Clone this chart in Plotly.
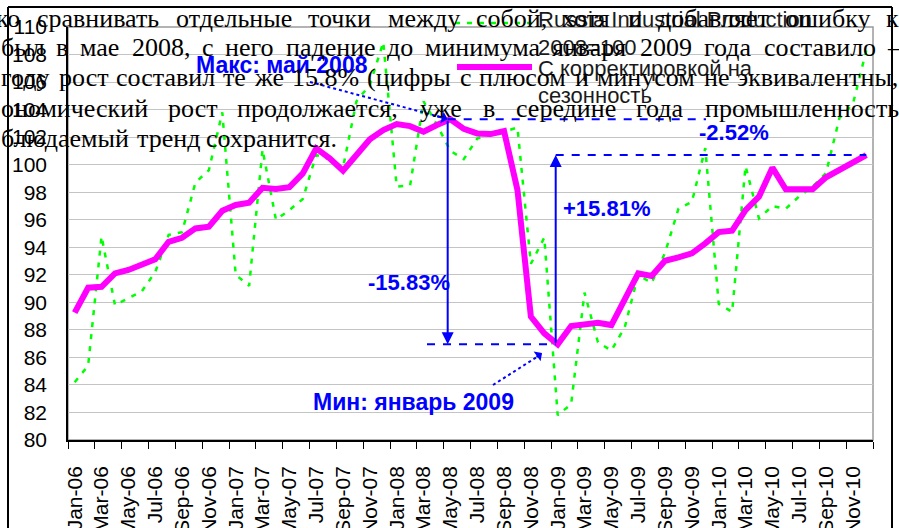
import plotly.graph_objects as go

# ---------------- data ----------------
months = ["Jan-06", "Feb-06", "Mar-06", "Apr-06", "May-06", "Jun-06", "Jul-06", "Aug-06", "Sep-06", "Oct-06", "Nov-06", "Dec-06",
          "Jan-07", "Feb-07", "Mar-07", "Apr-07", "May-07", "Jun-07", "Jul-07", "Aug-07", "Sep-07", "Oct-07", "Nov-07", "Dec-07",
          "Jan-08", "Feb-08", "Mar-08", "Apr-08", "May-08", "Jun-08", "Jul-08", "Aug-08", "Sep-08", "Oct-08", "Nov-08", "Dec-08",
          "Jan-09", "Feb-09", "Mar-09", "Apr-09", "May-09", "Jun-09", "Jul-09", "Aug-09", "Sep-09", "Oct-09", "Nov-09", "Dec-09",
          "Jan-10", "Feb-10", "Mar-10", "Apr-10", "May-10", "Jun-10", "Jul-10", "Aug-10", "Sep-10", "Oct-10", "Nov-10", "Dec-10"]

tick_labels = ["Jan-06", "Mar-06", "May-06", "Jul-06", "Sep-06", "Nov-06",
               "Jan-07", "Mar-07", "May-07", "Jul-07", "Sep-07", "Nov-07",
               "Jan-08", "Mar-08", "May-08", "Jul-08", "Sep-08", "Nov-08",
               "Jan-09", "Mar-09", "May-09", "Jul-09", "Sep-09", "Nov-09",
               "Jan-10", "Mar-10", "May-10", "Jul-10", "Sep-10", "Nov-10"]

raw_index = [84.2, 85.4, 94.8, 89.8, 90.3, 90.8, 92.2, 94.9, 95.1, 98.7, 99.6, 103.8,
             92.0, 91.2, 101.1, 96.0, 96.7, 97.5, 100.7, 100.4, 99.8, 104.6, 105.8, 108.9,
             98.4, 98.5, 104.6, 102.9, 101.0, 100.4, 101.9, 102.2, 102.4, 102.7, 92.8, 94.7,
             81.8, 82.6, 90.7, 87.1, 86.5, 88.2, 92.0, 91.4, 93.6, 96.8, 97.3, 101.2,
             89.9, 89.3, 99.9, 96.1, 97.0, 96.8, 97.7, 98.4, 99.4, 103.4, 104.4, 108.3]

sa_index = [89.25, 91.06, 91.13, 92.10, 92.35, 92.70, 93.12, 94.40, 94.69, 95.37, 95.49, 96.65,
            97.07, 97.23, 98.32, 98.23, 98.37, 99.37, 101.18, 100.46, 99.56, 100.70, 101.84, 102.51,
            102.95, 102.80, 102.39, 102.88, 103.30, 102.60, 102.27, 102.22, 102.44, 98.16, 88.96, 87.75,
            86.95, 88.28, 88.40, 88.52, 88.35, 90.29, 92.10, 91.91, 93.02, 93.27, 93.56, 94.28,
            95.10, 95.20, 96.70, 97.67, 99.78, 98.21, 98.21, 98.21, 99.08, 99.61, 100.09, 100.70]

y_ticks = [80, 82, 84, 86, 88, 90, 92, 94, 96, 98, 100, 102, 104, 106, 108, 110]

legend_raw = ["Russia Industrial Production", "2008=100"]
legend_sa = ["С корректировкой на", "сезонность"]

label_max = "Макс: май 2008"
label_min = "Мин: январь 2009"
label_fall = "-15.83%"
label_rise = "+15.81%"
label_gap = "-2.52%"

# overlaid document text (justified lines seen through the chart)
body_lines = [
    ["ко", "сравнивать", "отдельные", "точки", "между", "собой,", "хотя", "и", "добавляет", "ошибку", "к"],
    ["был", "в", "мае", "2008,", "с", "него", "падение", "до", "минимума", "января", "2009", "года", "составило", "–"],
    ["году", "рост", "составил", "те", "же", "15.8%", "(цифры", "с", "плюсом", "и", "минусом", "не", "эквивалентны,"],
    ["ономический", "рост", "продолжается,", "уже", "в", "середине", "года", "промышленность"],
    ["блюдаемый", "тренд", "сохранится."],
]
body_spans = [(-5, 898), (0, 899), (0, 898), (0, 898), None]   # justified extents (px); None = natural
body_centers = [18, 48, 78, 108, 138]

# ---------------- geometry helpers ----------------
W, H = 899, 528
L, R, T, B = 68, 26, 27, 88
PW, PH = W - L - R, H - T - B
YMIN, YMAX = 80, 110
N = len(months)


def fx(px):
    return (px - L) / PW


def fy(py):
    return (H - B - py) / PH


def dx(px):
    return (px - L) / PW * N - 0.5


def dy(py):
    return YMIN + (H - B - py) / PH * (YMAX - YMIN)


# approximate Times/Liberation Serif advance widths (1/1000 em) for justification
CW = {'а': 444, 'б': 508, 'в': 472, 'г': 410, 'д': 509, 'е': 444, 'ж': 691, 'з': 395, 'и': 535, 'й': 535,
      'к': 486, 'л': 499, 'м': 633, 'н': 535, 'о': 500, 'п': 535, 'р': 500, 'с': 444, 'т': 437, 'у': 500,
      'ф': 648, 'х': 500, 'ц': 535, 'ч': 503, 'ш': 770, 'щ': 770, 'ъ': 517, 'ы': 672, 'ь': 456, 'э': 438,
      'ю': 733, 'я': 493, '.': 250, ',': 250, '%': 833, '(': 333, ')': 333, '–': 500, ' ': 250}
BODY_SIZE = 26


def text_w(s):
    return sum(CW.get(c, 500) for c in s) / 1000 * BODY_SIZE


x_idx = list(range(N))
tick_pos = [months.index(t) for t in tick_labels]

BLUE = "#0000ff"
GREEN = "#00ff00"
MAGENTA = "#ff00ff"
SANS = "Liberation Sans, Arial, sans-serif"
SERIF = "Liberation Serif, Times New Roman, serif"

fig = go.Figure()
fig.add_trace(go.Scatter(x=x_idx, y=raw_index, mode="lines", name=" ".join(legend_raw),
                         line=dict(color=GREEN, width=2.5, dash="5px,7px"),
                         showlegend=False, hoverinfo="skip"))
fig.add_trace(go.Scatter(x=x_idx, y=sa_index, mode="lines", name=" ".join(legend_sa),
                         line=dict(color=MAGENTA, width=6),
                         showlegend=False, hoverinfo="skip"))

max_level = max(sa_index)
i_max = sa_index.index(max_level)
min_level = min(sa_index)
i_min = sa_index.index(min_level)
end_level = sa_index[-1]
i_end = N - 1

x_max_arrow = i_max - 0.2
x_min_arrow = i_min - 0.15

shapes = []
# plot area border (grey)
shapes.append(dict(type="rect", xref="paper", yref="paper", x0=0, y0=0, x1=1, y1=1,
                   line=dict(color="#9a9a9a", width=1.5), layer="below"))
# outer black frame of the picture
for (x0, y0, x1, y1) in [(8, 7, 892, 7), (8, 7, 8, 540), (892, 7, 892, 540)]:
    shapes.append(dict(type="line", xref="paper", yref="paper", x0=fx(x0), y0=fy(y0), x1=fx(x1), y1=fy(y1),
                       line=dict(color="black", width=2)))
# dashed level lines
shapes.append(dict(type="line", xref="x", yref="y", x0=x_max_arrow, x1=dx(706), y0=max_level, y1=max_level,
                   line=dict(color=BLUE, width=2, dash="8px,8px")))
shapes.append(dict(type="line", xref="x", yref="y", x0=dx(427), x1=x_min_arrow, y0=min_level, y1=min_level,
                   line=dict(color=BLUE, width=2, dash="8px,8px")))
shapes.append(dict(type="line", xref="x", yref="y", x0=x_min_arrow, x1=i_end, y0=end_level, y1=end_level,
                   line=dict(color=BLUE, width=2, dash="8px,8px")))
# dotted pointers
shapes.append(dict(type="line", xref="x", yref="y", x0=dx(310), y0=dy(82), x1=x_max_arrow - 0.3, y1=max_level + 0.1,
                   line=dict(color=BLUE, width=2, dash="dot")))
shapes.append(dict(type="line", xref="x", yref="y", x0=dx(493), y0=dy(385), x1=dx(540), y1=dy(355),
                   line=dict(color=BLUE, width=2, dash="dot")))
# legend samples
shapes.append(dict(type="line", xref="paper", yref="paper", x0=fx(455), x1=fx(532), y0=fy(23), y1=fy(23),
                   line=dict(color=GREEN, width=2.5, dash="5px,7px")))
shapes.append(dict(type="line", xref="paper", yref="paper", x0=fx(457), x1=fx(532), y0=fy(67), y1=fy(67),
                   line=dict(color=MAGENTA, width=6)))

ann = []
# arrows
ann.append(dict(xref="x", yref="y", axref="x", ayref="y", x=x_max_arrow, y=min_level, ax=x_max_arrow, ay=max_level,
                text="", showarrow=True, arrowhead=2, arrowsize=1.2, arrowwidth=2, arrowcolor=BLUE, standoff=0))
ann.append(dict(xref="x", yref="y", axref="x", ayref="y", x=x_min_arrow, y=end_level, ax=x_min_arrow, ay=min_level,
                text="", showarrow=True, arrowhead=2, arrowsize=1.2, arrowwidth=2, arrowcolor=BLUE, standoff=0))
ann.append(dict(xref="x", yref="y", axref="x", ayref="y", x=x_max_arrow, y=max_level, ax=x_max_arrow - 0.9,
                ay=max_level + 0.25, text="", showarrow=True, arrowhead=1, arrowsize=1, arrowwidth=2,
                arrowcolor=BLUE, standoff=0))
ann.append(dict(xref="x", yref="y", axref="x", ayref="y", x=dx(542), y=dy(353), ax=dx(535), ay=dy(358),
                text="", showarrow=True, arrowhead=1, arrowsize=1, arrowwidth=2, arrowcolor=BLUE, standoff=0))
# blue labels
for txt, (px, py), size in [(label_max, (282, 65), 23), (label_min, (413, 402), 23), (label_fall, (409, 282), 22),
                            (label_rise, (606, 208), 22), (label_gap, (734, 132), 22)]:
    ann.append(dict(xref="x", yref="y", x=dx(px), y=dy(py), text=txt, showarrow=False,
                    xanchor="center", yanchor="middle",
                    font=dict(family=SANS, size=size, color=BLUE, weight="bold")))
# legend texts
leg_font = dict(family=SANS, size=22, color="#1a1a1a")
for txt, py in [(legend_raw[0], 19), (legend_raw[1], 48), (legend_sa[0], 69), (legend_sa[1], 96)]:
    ann.append(dict(xref="paper", yref="paper", x=fx(536), y=fy(py), text=txt, showarrow=False,
                    xanchor="left", yanchor="middle", font=leg_font))
# overlaid document text, justified word by word
body_font = dict(family=SERIF, size=BODY_SIZE, color="black")
for words, span, cy in zip(body_lines, body_spans, body_centers):
    widths = [text_w(w) for w in words]
    if span is None:
        x_pos, gap = 0, text_w(" ")
    else:
        x_pos = span[0]
        gap = (span[1] - span[0] - sum(widths)) / (len(words) - 1)
    for w, wd in zip(words, widths):
        ann.append(dict(xref="paper", yref="paper", x=fx(x_pos), y=fy(cy), text=w, showarrow=False,
                        xanchor="left", yanchor="middle", font=body_font, borderpad=0))
        x_pos += wd + gap

fig.update_layout(
    width=W, height=H,
    margin=dict(l=L, r=R, t=T, b=B, pad=0, autoexpand=False),
    paper_bgcolor="white", plot_bgcolor="white",
    showlegend=False,
    shapes=shapes, annotations=ann,
    xaxis=dict(range=[-0.5, N - 0.5], tickmode="array", tickvals=tick_pos, ticktext=tick_labels,
               tickangle=-90, tickfont=dict(family=SANS, size=21, color="black"),
               ticks="", showgrid=False, zeroline=False, showline=True, linecolor="black", linewidth=1.5,
               ticklabelstandoff=16, automargin=False,
               minor=dict(tickmode="array", tickvals=[p - 0.5 for p in tick_pos] + [N - 0.5],
                          ticks="outside", ticklen=7, tickcolor="black", tickwidth=1, showgrid=False)),
    yaxis=dict(range=[YMIN, YMAX], tickmode="array", tickvals=y_ticks,
               tickfont=dict(family=SANS, size=21, color="black"),
               ticks="", showgrid=True, gridcolor="#c4c4c4", gridwidth=1, zeroline=False,
               showline=True, linecolor="black", linewidth=1.5, ticklabelstandoff=15, automargin=False),
)

fig.write_html("out.html", config={"displayModeBar": False},
               post_script="document.body.style.margin='0';")
